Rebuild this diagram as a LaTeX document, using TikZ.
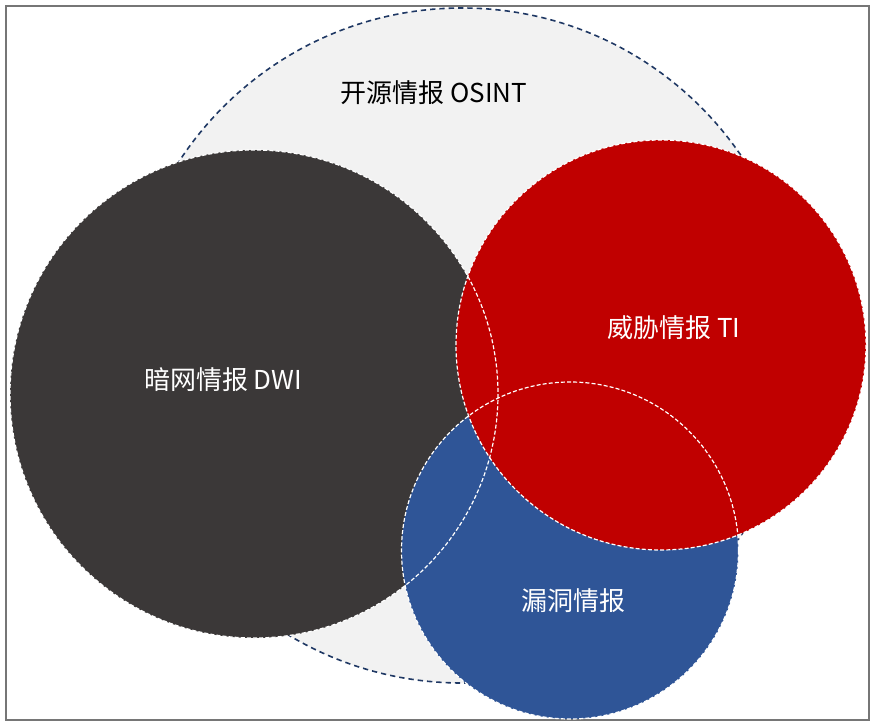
\documentclass[tikz,border=0pt]{standalone}
\usepackage{fontspec}
\setmainfont{Noto Sans CJK SC}
\definecolor{osintfill}{HTML}{F2F2F2}
\definecolor{osintline}{HTML}{1F3864}
\definecolor{dwifill}{HTML}{3B3838}
\definecolor{tifill}{HTML}{C00000}
\definecolor{vulnfill}{HTML}{2F5597}
\definecolor{framegray}{HTML}{767676}
\tikzset{
  whiteline/.style={draw=white, line width=0.9pt, dash pattern=on 3pt off 1.6pt},
  lbl/.style={font=\fontsize{19.5pt}{22pt}\selectfont, inner sep=0pt, anchor=center},
}
\begin{document}
\begin{tikzpicture}[x=0.75pt,y=-0.75pt]
\useasboundingbox (0,0) rectangle (874,727);
\draw[framegray, line width=1.2pt] (6,6) rectangle (869,720);
% OSINT
\fill[osintfill] (462,345.5) circle (337.5);
\draw[osintline, line width=1.2pt, dash pattern=on 4pt off 3pt] (462,345.5) circle (337.5);
% fills
\fill[dwifill] (254,394) circle (244);
\fill[vulnfill] (570,550.5) circle (168.5);
\fill[tifill] (661,345) circle (205);
% white outlines
\draw[whiteline] (254,394) circle (244);
\draw[whiteline] (570,550.5) circle (168.5);
\draw[whiteline] (661,345) circle (205);
% labels
\node[lbl, text=black] (osint) at (434,93) {开源情报 OSINT};
\node[lbl, text=white] (dwi) at (223,380) {暗网情报 DWI};
\node[lbl, text=white] (ti) at (674,328) {威胁情报 TI};
\node[lbl, text=white] (vuln) at (573,601) {漏洞情报};
\end{tikzpicture}
\end{document}
